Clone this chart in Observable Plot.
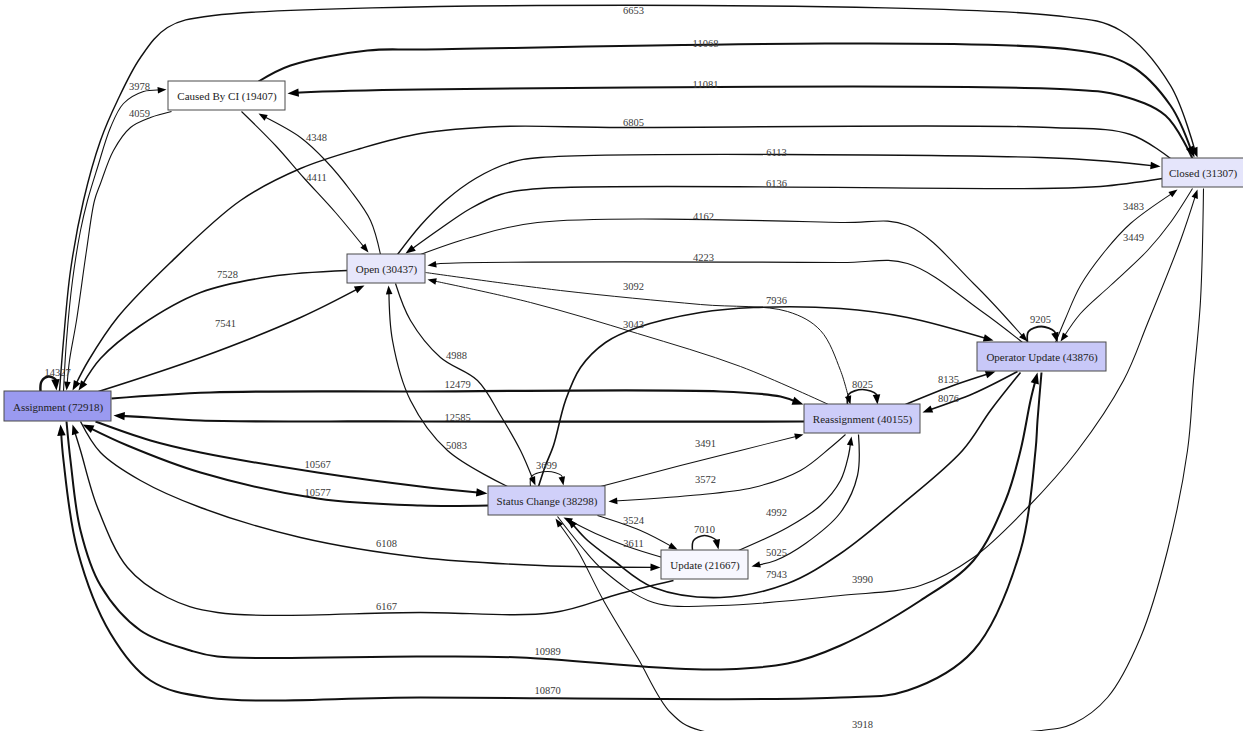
<!DOCTYPE html>
<html><head><meta charset="utf-8">
<script src="https://cdn.jsdelivr.net/npm/d3@7"></script>
<script src="https://cdn.jsdelivr.net/npm/@observablehq/plot@0.6"></script>
<style>html,body{margin:0;padding:0;background:#fff;overflow:hidden}#chart svg{display:block}</style>
</head><body><div id="chart"></div>
<script>
// ---- data ----
const nodeNames = ["Assignment","Caused By CI","Open","Closed","Operator Update","Reassignment","Status Change","Update"];
const nodeCounts = [72918,19407,30437,31307,43876,40155,38298,21667];

const edgeList = [
 ["Assignment","Assignment",14327],
 ["Assignment","Caused By CI",3978],
 ["Caused By CI","Assignment",4059],
 ["Assignment","Closed",6653],
 ["Closed","Assignment",6805],
 ["Assignment","Open",7541],
 ["Open","Assignment",7528],
 ["Assignment","Reassignment",12479],
 ["Reassignment","Assignment",12585],
 ["Assignment","Status Change",10567],
 ["Status Change","Assignment",10577],
 ["Assignment","Update",6108],
 ["Update","Assignment",6167],
 ["Assignment","Operator Update",10989],
 ["Operator Update","Assignment",10870],
 ["Caused By CI","Closed",11068],
 ["Closed","Caused By CI",11081],
 ["Caused By CI","Open",4411],
 ["Open","Caused By CI",4348],
 ["Open","Closed",6113],
 ["Closed","Open",6136],
 ["Open","Operator Update",4162],
 ["Operator Update","Open",4223],
 ["Open","Reassignment",3092],
 ["Reassignment","Open",3043],
 ["Open","Status Change",4988],
 ["Status Change","Open",5083],
 ["Status Change","Operator Update",7936],
 ["Status Change","Reassignment",3491],
 ["Reassignment","Status Change",3572],
 ["Status Change","Update",3524],
 ["Update","Status Change",3611],
 ["Status Change","Status Change",3699],
 ["Status Change","Closed",3990],
 ["Closed","Status Change",3918],
 ["Operator Update","Operator Update",9205],
 ["Operator Update","Reassignment",8076],
 ["Reassignment","Operator Update",8135],
 ["Operator Update","Closed",3483],
 ["Closed","Operator Update",3449],
 ["Operator Update","Status Change",7943],
 ["Reassignment","Update",5025],
 ["Update","Reassignment",4992],
 ["Reassignment","Reassignment",8025],
 ["Update","Update",7010]
];

// ---- layout (graph drawing positions) ----
const nodeBoxes = [[4,111,391,421],[168,285,81,110],[347,425,254,283],[1162,1244,158,187],[977,1106,342,371],[804,920,404,433],[488,605,486,515],[661,748,550,579]];

const edgeLabelAt = [
 [57,372],[139,86],[139,113],[633,10],[633,122],[225,323],[227,274],[457,384],[457,417],[317,464],
 [317,492],[386,543],[386,606],[547,651],[547,690],[705,43],[705,84],[316,177],[316,137],[776,152],
 [776,183],[703,216],[703,257],[633,286],[633,324],[456,355],[456,445],[776,300],[705,443],[705,479],
 [633,520],[633,543],[546,465],[862,579],[862,724],[1040,319],[948,398],[948,379],[1133,206],[1133,237],
 [776,574],[776,552],[776,512],[862,384],[704,529]
];

const edgeRoutes = [
 [[40,391],[41,381],[48,376],[55,379],[56,390]],
 [[63,391],[66,340],[72,280],[80,230],[87,200],[97,167],[110,127],[123,103],[143,91],[166,89]],
 [[171,111],[150,117],[130,127],[113,150],[100,183],[94,200],[86,250],[76,320],[69,360],[66,390]],
 [[59,391],[63,340],[70,270],[83,200],[100,140],[117,100],[140,57],[167,27],[213,15],[1053,15],[1120,30],[1170,85],[1197,157]],
 [[1170,158],[1130,134],[1050,127],[620,127],[500,126],[420,133],[360,148],[300,168],[240,200],[170,262],[117,317],[88,360],[72,390]],
 [[98,391],[200,357],[300,317],[364,285]],
 [[347,270],[270,276],[200,292],[140,325],[100,358],[78,390]],
 [[111,398],[210,392],[420,391],[720,391],[780,396],[803,404]],
 [[804,421],[420,421],[200,420],[150,417],[113,415]],
 [[95,421],[150,440],[200,452],[317,472],[420,486],[487,493]],
 [[488,505],[420,505],[317,498],[200,472],[127,445],[82,424]],
 [[80,421],[100,452],[140,480],[200,507],[300,537],[420,557],[540,565],[660,567]],
 [[673,580],[620,593],[553,612],[420,612],[217,612],[167,597],[127,567],[97,507],[80,450],[72,424]],
 [[66,421],[70,460],[80,530],[100,585],[140,630],[190,650],[217,656],[420,656],[520,657],[703,669],[787,663],[840,645],[920,600],[973,560],[1005,500],[1020,450],[1030,400],[1037,372]],
 [[1041,372],[1037,420],[1035,450],[1020,550],[973,650],[907,690],[840,697],[420,697],[207,697],[150,680],[110,633],[77,550],[63,460],[60,424]],
 [[258,81],[290,65],[367,50],[420,49],[1070,49],[1130,65],[1170,105],[1194,157]],
 [[1192,158],[1165,115],[1120,95],[1070,89],[420,89],[300,92],[287,93]],
 [[241,111],[275,145],[303,177],[335,212],[368,252]],
 [[380,254],[370,220],[350,190],[325,160],[300,137],[258,113]],
 [[397,254],[420,225],[445,200],[475,178],[510,162],[540,157],[1040,157],[1110,161],[1160,166]],
 [[1162,178],[1100,186],[1040,188],[540,188],[500,194],[470,208],[440,228],[405,253]],
 [[420,254],[470,237],[537,222],[840,222],[907,225],[973,283],[1027,341]],
 [[1022,342],[980,310],[907,263],[840,262],[440,263],[427,265]],
 [[425,272],[560,290],[700,304],[787,311],[820,330],[840,370],[850,404]],
 [[828,404],[740,366],[637,333],[530,302],[427,279]],
 [[395,283],[410,320],[440,357],[477,380],[500,415],[520,450],[535,485]],
 [[507,486],[447,450],[410,400],[392,340],[388,285]],
 [[538,486],[545,465],[553,445],[565,400],[580,367],[605,342],[637,327],[700,312],[753,307],[840,308],[907,317],[993,340]],
 [[600,486],[680,465],[740,450],[803,434]],
 [[845,434],[830,447],[800,470],[753,487],[690,495],[608,501]],
 [[597,515],[640,530],[677,549]],
 [[662,557],[627,546],[595,533],[563,517]],
 [[530,486],[531,476],[547,471],[561,475],[563,485]],
 [[557,516],[580,545],[603,570],[653,602],[720,605],[840,595],[920,585],[973,557],[1027,507],[1077,450],[1123,380],[1147,323],[1180,240],[1197,189]],
 [[1203,188],[1200,300],[1193,380],[1187,450],[1167,550],[1140,637],[1107,697],[1073,723],[1040,730],[700,730],[670,712],[637,657],[603,600],[577,550],[555,518]],
 [[1027,342],[1028,331],[1041,326],[1054,331],[1057,342]],
 [[1017,371],[973,393],[922,412]],
 [[905,404],[950,386],[995,371]],
 [[1055,342],[1065,318],[1080,285],[1105,250],[1130,223],[1177,189]],
 [[1192,188],[1170,222],[1147,250],[1110,285],[1080,313],[1060,341]],
 [[1020,372],[990,410],[962,450],[900,505],[840,553],[787,583],[720,597],[653,587],[613,560],[585,538],[567,518]],
 [[858,434],[857,475],[840,512],[805,543],[775,560],[751,566]],
 [[738,550],[787,527],[820,505],[840,480],[848,455],[851,436]],
 [[847,404],[848,394],[862,389],[876,394],[877,404]],
 [[692,550],[693,540],[704,535],[716,540],[718,549]]
];

// ---- build tables ----
const W = 1243, H = 731;
const serif = "'Liberation Serif','Times New Roman',Times,serif";
const nodes = nodeNames.map((name, i) => ({
  name, count: nodeCounts[i],
  x1: nodeBoxes[i][0], x2: nodeBoxes[i][1], y1: nodeBoxes[i][2], y2: nodeBoxes[i][3],
  cx: (nodeBoxes[i][0] + Math.min(nodeBoxes[i][1], W)) / 2, cy: (nodeBoxes[i][2] + nodeBoxes[i][3]) / 2 + 0.5,
  label: `${name} (${nodeCounts[i]})`
}));
const edges = edgeList.map(([source, target, count], i) => ({
  id: i, source, target, count, route: edgeRoutes[i],
  lx: edgeLabelAt[i][0], ly: edgeLabelAt[i][1], sw: 0.55 + count / 7500
}));
const linePts = [], arrows = [];
for (const e of edges) {
  const r = e.route, tip = r[r.length - 1], prev = r[r.length - 2];
  const dx = tip[0] - prev[0], dy = tip[1] - prev[1], len = Math.hypot(dx, dy);
  const ux = dx / len, uy = dy / len;
  const k = e.sw < 1.3 ? 4.4 : e.sw < 1.9 ? 5.0 : 5.6;
  const cut = Math.min(k * 1.3, len * 0.5);
  const pts = r.slice(0, -1).concat([[tip[0] - ux * cut, tip[1] - uy * cut]]);
  for (const [x, y] of pts) linePts.push({id: e.id, x, y, sw: e.sw});
  arrows.push({x: tip[0], y: tip[1], angle: Math.atan2(dy, dx) * 180 / Math.PI, k});
}
const arrowSymbol = {
  draw(ctx, size) {
    const k = Math.sqrt(size / Math.PI);
    ctx.moveTo(0, 0); ctx.lineTo(-2 * k, -0.75 * k); ctx.lineTo(-2 * k, 0.75 * k); ctx.closePath();
  }
};
const arrowMarks = [4.4, 5.0, 5.6].map(k => Plot.dot(arrows.filter(a => a.k === k), {
  x: "x", y: "y", rotate: "angle", r: k, symbol: arrowSymbol, fill: "#000", stroke: "none"
}));

const chart = Plot.plot({
  width: W, height: H, margin: 0,
  x: {domain: [0, W], range: [0, W], axis: null},
  y: {domain: [0, H], range: [0, H], axis: null},
  color: {type: "linear", domain: [19407, 21667, 31000, 38000, 44000, 72918],
          range: ["#ffffff", "#f7f7fe", "#e6e6fb", "#d0d0f9", "#c8c8f8", "#9a9af0"]},
  style: {background: "#fff"},
  marks: [
    Plot.line(linePts, {x: "x", y: "y", z: "id", curve: "catmull-rom", stroke: "#111", strokeWidth: "sw", strokeLinecap: "butt"}),
    ...arrowMarks,
    Plot.text(edges, {x: "lx", y: "ly", text: d => String(d.count), fontSize: 10.5, fontFamily: serif, fill: "#3a3a3a"}),
    Plot.rect(nodes, {x1: "x1", x2: "x2", y1: "y1", y2: "y2", fill: "count", stroke: "#4a4a4a", strokeWidth: 1}),
    Plot.text(nodes, {x: "cx", y: "cy", text: "label", fontSize: 11, fontFamily: serif, fill: "#222"})
  ]
});
document.getElementById("chart").append(chart);
</script>
</body></html>
